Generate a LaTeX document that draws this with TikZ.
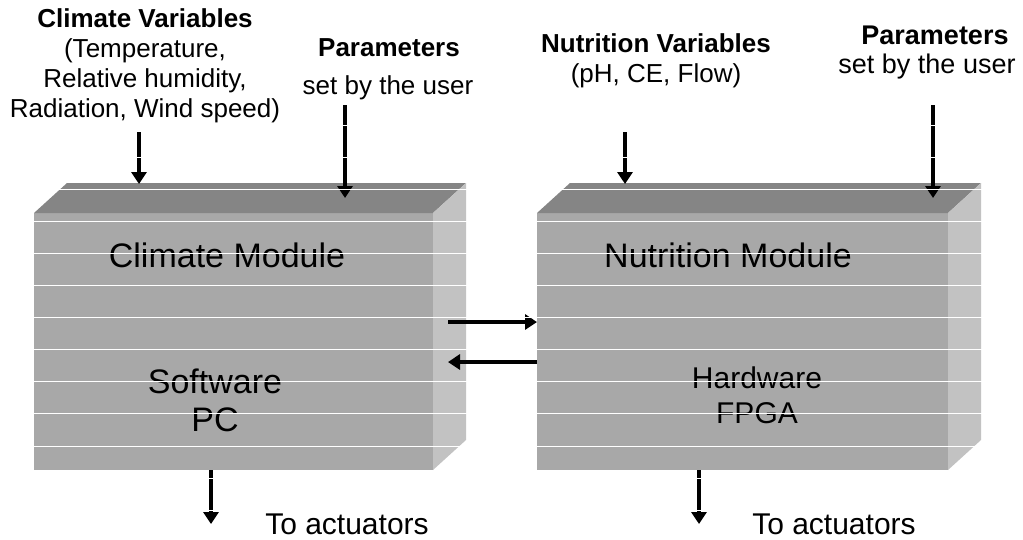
\documentclass[tikz,border=0pt]{standalone}
\usepackage{fontspec}
\setmainfont{Liberation Sans}
\usetikzlibrary{arrows.meta}
\definecolor{frontc}{HTML}{A8A8A8}
\definecolor{topc}{HTML}{858585}
\definecolor{sidec}{HTML}{C2C2C2}
\tikzset{
  front/.style={fill=frontc, draw=none, inner sep=0pt, outer sep=0pt, anchor=north west},
  arr/.style={line width=4.5pt, -{Triangle[length=12pt,width=15pt]}},
  toplbl/.style={inner sep=0pt, align=center, font=\fontsize{26}{30}\selectfont},
  boxlbl/.style={inner sep=0pt, align=center, font=\fontsize{34}{39}\selectfont},
  hwlbl/.style={inner sep=0pt, align=center, font=\fontsize{30}{35}\selectfont},
  outlbl/.style={inner sep=0pt, font=\fontsize{30}{35}\selectfont},
  scanline/.style={white, line width=1pt}
}
\begin{document}
\begin{tikzpicture}[x=1pt,y=-1pt]
\useasboundingbox (0,0) rectangle (1023,539);

% ---- boxes ----
\node[front, minimum width=399pt, minimum height=257pt] (lfront) at (34,213) {};
\fill[topc] (lfront.north west) -- ++(33,-30) -- ++(399,0) -- (lfront.north east) -- cycle;
\fill[sidec] (lfront.north east) -- ++(33,-30) -- ++(0,257) -- (lfront.south east) -- cycle;

\node[front, minimum width=411pt, minimum height=257pt] (rfront) at (537,213) {};
\fill[topc] (rfront.north west) -- ++(33,-30) -- ++(411,0) -- (rfront.north east) -- cycle;
\fill[sidec] (rfront.north east) -- ++(33,-30) -- ++(0,257) -- (rfront.south east) -- cycle;

% ---- box texts ----
\node[boxlbl] (cm) at (227,255) {Climate Module};
\node[boxlbl] (sw) at (215,381) {Software};
\node[boxlbl] (pc) at (215,420) {PC};
\node[boxlbl] (nm) at (728,255) {Nutrition Module};
\node[hwlbl] (hw) at (757,378) {Hardware};
\node[hwlbl] (fpga) at (757,413) {FPGA};

% ---- top labels ----
\node[toplbl] (cv) at (145,66) {\textbf{Climate Variables}\\(Temperature,\\Relative humidity,\\Radiation, Wind speed)};
\node[toplbl] (lpar) at (389,48) {\textbf{Parameters}};
\node[toplbl] (lset) at (388,88) {set by the user};
\node[toplbl] (nv) at (656,61) {\textbf{Nutrition Variables}\\(pH, CE, Flow)};
\node[toplbl, font=\fontsize{27}{30}\selectfont] (rpar) at (935,35) {\textbf{Parameters}};
\node[toplbl, font=\fontsize{27}{30}\selectfont] (rset) at (927,67) {set by the user};

% ---- bottom labels ----
\node[outlbl] (lact) at (347,524) {To actuators};
\node[outlbl] (ract) at (834,524) {To actuators};

% ---- arrow coordinates ----
\coordinate (a1s) at (139,132);
\coordinate (a1e) at (139,184);
\coordinate (a2s) at (345,105);
\coordinate (a2e) at (345,198);
\coordinate (a3s) at (625,132);
\coordinate (a3e) at (625,184);
\coordinate (a4s) at (933,105);
\coordinate (a4e) at (933,198);
\coordinate (m1s) at (448,322);
\coordinate (m2e) at (448,362);
\coordinate (lo) at (211,524);
\coordinate (ro) at (699,524);

% ---- arrows ----
\draw[arr] (a1s) -- (a1e);
\draw[arr] (a2s) -- (a2e);
\draw[arr] (a3s) -- (a3e);
\draw[arr] (a4s) -- (a4e);
\draw[arr] (m1s) -- (m1s -| rfront.west);
\draw[arr] (m2e -| rfront.west) -- (m2e);
\draw[arr] (lo |- lfront.south) -- (lo);
\draw[arr] (ro |- rfront.south) -- (ro);

% ---- scan lines ----
\foreach \k in {0,...,12} {
  \draw[scanline] (0,125+32.1*\k) -- (1023,125+32.1*\k);
}
\end{tikzpicture}
\end{document}
